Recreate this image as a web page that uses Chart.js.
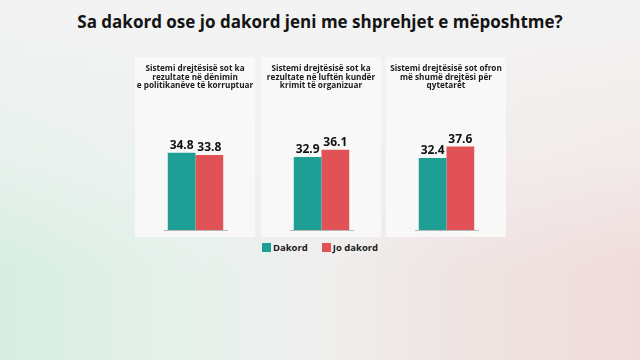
<!DOCTYPE html>
<html>
<head>
<meta charset="utf-8">
<script src="https://cdn.jsdelivr.net/npm/chart.js@4"></script>
<style>
  html, body { margin: 0; padding: 0; }
  body {
    width: 640px; height: 360px; position: relative; overflow: hidden;
    font-family: "Open Sans", sans-serif;
    background:
      linear-gradient(to bottom, rgba(243,243,243,1) 0%, rgba(243,243,243,0.6) 45%, rgba(243,243,243,0) 75%),
      linear-gradient(to right, #d6eee2 0%, #e6f1eb 28%, #efefee 50%, #efe5e3 70%, #f1dcdb 100%);
  }
  h1 {
    position: absolute; left: 0; top: 10px; width: 640px; margin: 0;
    text-align: center; font-size: 17px; font-weight: 700; color: #141414;
  }
  .card {
    position: absolute; top: 57px; width: 120px; height: 180px;
    background: rgba(249,249,249,0.93);
  }
  .card canvas { position: absolute; left: 0; top: 0; }
  .card .t {
    position: absolute; left: 0; top: 7px; width: 120px; text-align: center;
    font-size: 8.2px; font-weight: 700; line-height: 8.6px; color: #1a1a1a;
  }
  #legend {
    position: absolute; top: 241px; left: 0; width: 640px; text-align: center;
    font-size: 9.5px; font-weight: 700; color: #1a1a1a;
  }
  #legend span.item { display: inline-block; margin: 0 7px; }
  #legend i { display: inline-block; width: 9px; height: 9px; vertical-align: -1px; margin-right: 2px; }
</style>
</head>
<body>
<h1>Sa dakord ose jo dakord jeni me shprehjet e mëposhtme?</h1>
<div id="cards"></div>
<div id="legend"></div>
<script>
const categories = [
  ['Sistemi drejtësisë sot ka', 'rezultate në dënimin', 'e politikanëve të korruptuar'],
  ['Sistemi drejtësisë sot ka', 'rezultate në luftën kundër', 'krimit të organizuar'],
  ['Sistemi drejtësisë sot ofron', 'më shumë drejtësi për', 'qytetarët']
];
const seriesNames = ['Dakord', 'Jo dakord'];
const dakord = [34.8, 32.9, 32.4];
const joDakord = [33.8, 36.1, 37.6];
const colors = ['#1f9e96', '#e05256'];

const cardLefts = [135, 261, 386];

const valueLabels = {
  id: 'valueLabels',
  afterDatasetsDraw(chart) {
    const ctx = chart.ctx;
    ctx.save();
    ctx.font = 'bold 12px "Open Sans", sans-serif';
    ctx.fillStyle = '#111';
    ctx.textAlign = 'center';
    ctx.textBaseline = 'bottom';
    chart.data.datasets.forEach((ds, di) => {
      chart.getDatasetMeta(di).data.forEach((bar, i) => {
        ctx.fillText(ds.data[i].toFixed(1), bar.x, bar.y - 1);
      });
    });
    ctx.restore();
  }
};

const cards = document.getElementById('cards');
categories.forEach((lines, i) => {
  const card = document.createElement('div');
  card.className = 'card';
  card.style.left = cardLefts[i] + 'px';
  const canvas = document.createElement('canvas');
  canvas.width = 120; canvas.height = 180;
  card.appendChild(canvas);
  const t = document.createElement('div');
  t.className = 't';
  t.innerHTML = lines.join('<br>');
  card.appendChild(t);
  cards.appendChild(card);

  new Chart(canvas, {
    type: 'bar',
    data: {
      labels: [lines.join(' ')],
      datasets: [
        { label: seriesNames[0], data: [dakord[i]], backgroundColor: colors[0] },
        { label: seriesNames[1], data: [joDakord[i]], backgroundColor: colors[1] }
      ]
    },
    options: {
      responsive: false,
      animation: false,
      layout: { padding: { left: 29, right: 28, top: 62, bottom: 7 } },
      plugins: { legend: { display: false }, tooltip: { enabled: false } },
      datasets: { bar: { categoryPercentage: 0.88, barPercentage: 1 } },
      scales: {
        x: { display: true, grid: { display: false, drawTicks: false }, ticks: { display: false }, border: { color: '#b8b8b8' } },
        y: { display: false, min: 0, max: 50 }
      }
    },
    plugins: [valueLabels]
  });
});

document.getElementById('legend').innerHTML = seriesNames
  .map((n, k) => `<span class="item"><i style="background:${colors[k]}"></i>${n}</span>`)
  .join('');
</script>
</body>
</html>
